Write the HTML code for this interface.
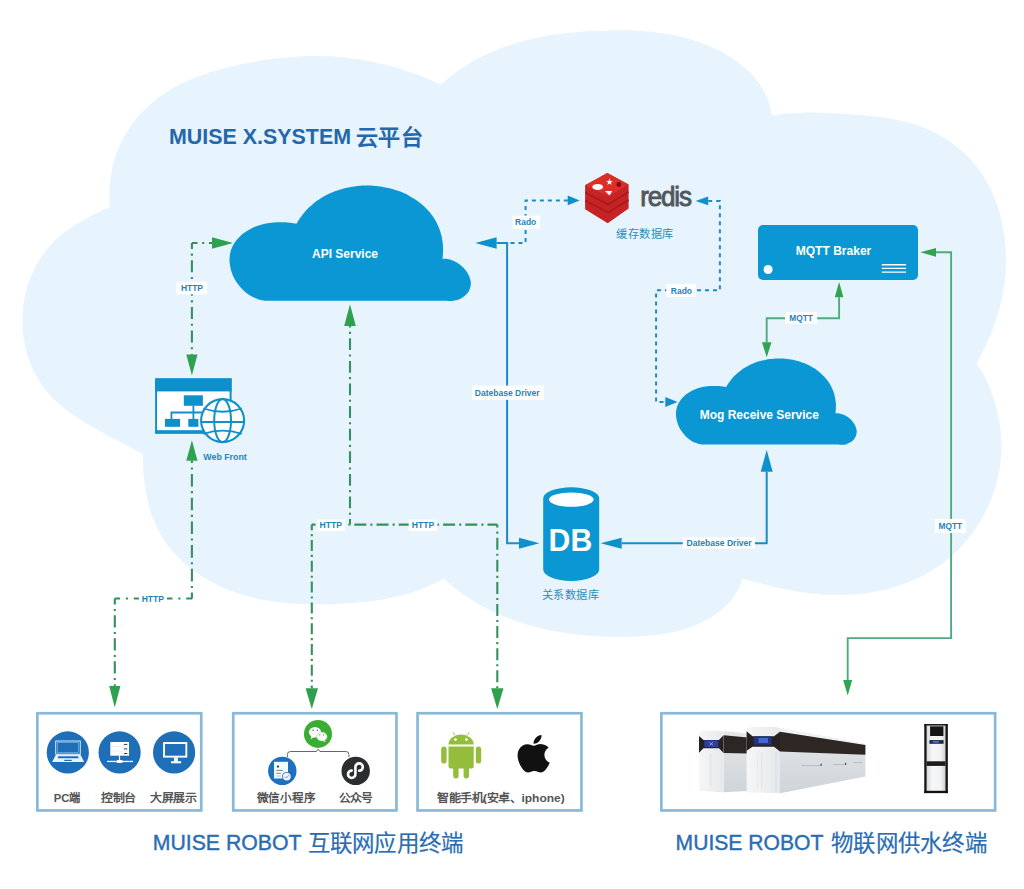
<!DOCTYPE html>
<html lang="zh-CN"><head><meta charset="utf-8"><title>MUISE</title>
<style>
html,body{margin:0;padding:0;background:#fff;}
body{width:1024px;height:889px;overflow:hidden;}
svg{display:block;font-family:'Liberation Sans',sans-serif;}
</style></head><body>
<svg width="1024" height="889" viewBox="0 0 1024 889" font-family="'Liberation Sans', sans-serif">
<path d="M110.0,207.0 C109.9,205.6 109.5,201.6 109.4,198.8 C109.3,196.1 109.3,193.4 109.4,190.7 C109.5,188.0 109.7,185.3 110.0,182.6 C110.2,179.9 110.6,177.2 111.0,174.5 C111.5,171.9 112.0,169.2 112.6,166.6 C113.3,164.0 114.0,161.3 114.8,158.8 C115.5,156.2 116.4,153.7 117.4,151.2 C118.3,148.7 119.4,146.2 120.5,143.8 C121.6,141.4 122.9,139.0 124.1,136.7 C125.4,134.3 126.8,132.0 128.3,129.8 C129.7,127.6 131.2,125.4 132.8,123.3 C134.4,121.2 136.1,119.1 137.8,117.1 C139.5,115.0 141.3,113.1 143.2,111.2 C145.0,109.2 146.9,107.4 148.9,105.6 C150.9,103.8 152.9,102.1 155.0,100.4 C157.0,98.7 159.2,97.1 161.3,95.6 C163.5,94.0 165.7,92.5 168.0,91.1 C170.2,89.7 172.5,88.3 174.9,87.1 C177.2,85.8 179.6,84.5 182.0,83.4 C184.4,82.2 186.9,81.1 189.3,80.0 C191.8,78.9 194.3,77.9 196.8,77.0 C199.3,76.0 201.9,75.1 204.5,74.2 C207.0,73.3 209.6,72.5 212.2,71.7 C214.8,70.9 217.4,70.2 220.1,69.5 C222.7,68.8 225.3,68.1 228.0,67.4 C230.6,66.8 233.3,66.1 236.0,65.5 C238.6,64.9 241.3,64.4 244.0,63.8 C246.6,63.3 249.3,62.7 252.0,62.3 C254.6,61.8 257.3,61.3 260.0,60.8 C262.7,60.4 265.3,60.0 268.0,59.6 C270.7,59.2 273.4,58.9 276.0,58.5 C278.7,58.2 281.4,57.9 284.1,57.7 C286.8,57.4 289.4,57.2 292.1,57.0 C294.8,56.8 297.5,56.6 300.2,56.4 C302.8,56.3 305.5,56.2 308.2,56.1 C310.9,56.1 313.5,56.0 316.2,56.1 C318.9,56.1 321.6,56.1 324.2,56.2 C326.9,56.2 329.6,56.4 332.2,56.5 C334.9,56.7 337.5,56.9 340.2,57.1 C342.9,57.3 345.5,57.6 348.2,57.9 C350.8,58.2 353.5,58.5 356.1,58.9 C358.8,59.3 361.4,59.7 364.0,60.2 C366.7,60.7 369.3,61.2 371.9,61.7 C374.5,62.2 377.2,62.8 379.8,63.4 C382.4,64.0 385.0,64.7 387.6,65.3 C390.2,66.0 392.8,66.7 395.4,67.5 C397.9,68.2 400.5,69.0 403.1,69.8 C405.6,70.6 408.2,71.5 410.7,72.4 C413.3,73.3 415.8,74.2 418.4,75.1 C420.9,76.1 423.4,77.0 425.9,78.1 C428.4,79.1 430.9,80.1 433.4,81.2 C435.9,82.3 439.6,83.9 440.8,84.5 C441.9,83.6 445.0,80.8 447.1,79.1 C449.3,77.3 451.4,75.6 453.6,74.0 C455.8,72.3 458.0,70.8 460.3,69.2 C462.5,67.7 464.8,66.2 467.1,64.8 C469.3,63.4 471.7,62.1 474.0,60.8 C476.3,59.5 478.7,58.2 481.0,57.0 C483.4,55.8 485.8,54.7 488.2,53.6 C490.6,52.5 493.1,51.4 495.5,50.4 C497.9,49.4 500.4,48.5 502.9,47.6 C505.4,46.6 507.9,45.8 510.4,45.0 C512.9,44.1 515.5,43.4 518.0,42.6 C520.6,41.9 523.1,41.2 525.7,40.5 C528.3,39.9 530.9,39.2 533.5,38.6 C536.1,38.1 538.7,37.5 541.4,37.0 C544.0,36.5 546.6,36.0 549.3,35.6 C552.0,35.1 554.6,34.7 557.3,34.3 C560.0,34.0 562.7,33.6 565.4,33.3 C568.1,33.0 570.8,32.7 573.5,32.4 C576.2,32.1 578.9,31.9 581.7,31.7 C584.4,31.5 587.1,31.3 589.9,31.1 C592.6,31.0 595.4,30.8 598.1,30.7 C600.9,30.6 603.7,30.5 606.4,30.4 C609.2,30.4 612.0,30.3 614.7,30.3 C617.5,30.3 620.3,30.3 623.0,30.3 C625.8,30.4 628.6,30.4 631.3,30.5 C634.1,30.6 636.8,30.8 639.6,30.9 C642.3,31.1 645.1,31.3 647.8,31.6 C650.5,31.8 653.3,32.1 656.0,32.4 C658.7,32.8 661.4,33.1 664.1,33.5 C666.7,34.0 669.4,34.4 672.1,34.9 C674.7,35.4 677.4,36.0 680.0,36.6 C682.6,37.2 685.2,37.8 687.8,38.5 C690.3,39.3 692.9,40.0 695.4,40.8 C698.0,41.7 700.5,42.5 703.0,43.5 C705.4,44.4 707.9,45.4 710.3,46.4 C712.7,47.5 715.1,48.6 717.5,49.8 C719.9,51.0 722.2,52.2 724.5,53.5 C726.8,54.8 729.1,56.2 731.3,57.7 C733.5,59.1 735.7,60.6 737.9,62.2 C740.0,63.8 742.1,65.5 744.1,67.2 C746.1,68.9 748.1,70.8 750.0,72.6 C751.8,74.5 753.6,76.5 755.3,78.6 C757.0,80.6 758.6,82.7 760.1,84.9 C761.6,87.1 763.0,89.4 764.2,91.8 C765.5,94.2 766.7,96.6 767.7,99.2 C768.7,101.7 769.6,104.4 770.3,107.1 C771.0,109.8 771.7,114.1 772.0,115.5 C773.3,115.3 777.4,114.7 780.1,114.4 C782.7,114.1 785.4,113.8 788.1,113.6 C790.8,113.3 793.5,113.2 796.1,113.0 C798.8,112.9 801.5,112.8 804.2,112.7 C806.8,112.6 809.5,112.6 812.2,112.6 C814.9,112.6 817.5,112.6 820.2,112.7 C822.9,112.7 825.6,112.8 828.2,112.9 C830.9,113.0 833.6,113.2 836.3,113.3 C839.0,113.5 841.6,113.6 844.3,113.8 C847.0,114.0 849.7,114.2 852.4,114.4 C855.1,114.6 857.8,114.9 860.5,115.1 C863.2,115.3 865.9,115.6 868.6,115.8 C871.3,116.1 874.0,116.4 876.7,116.7 C879.4,117.0 882.1,117.4 884.8,117.8 C887.5,118.2 890.1,118.6 892.8,119.1 C895.5,119.6 898.1,120.1 900.7,120.7 C903.4,121.3 906.0,121.9 908.6,122.6 C911.2,123.3 913.8,124.1 916.3,125.0 C918.9,125.8 921.4,126.8 923.9,127.8 C926.4,128.8 928.9,129.9 931.3,131.0 C933.7,132.2 936.1,133.4 938.5,134.7 C940.8,136.0 943.2,137.4 945.4,138.8 C947.7,140.2 949.9,141.7 952.1,143.3 C954.3,144.9 956.4,146.5 958.4,148.2 C960.5,149.9 962.5,151.6 964.5,153.5 C966.4,155.3 968.3,157.2 970.1,159.1 C971.9,161.1 973.7,163.1 975.3,165.1 C977.0,167.2 978.6,169.3 980.1,171.5 C981.7,173.7 983.1,175.9 984.5,178.2 C985.9,180.4 987.2,182.7 988.5,185.1 C989.7,187.5 990.9,189.9 992.0,192.3 C993.1,194.8 994.1,197.2 995.1,199.8 C996.1,202.3 997.0,204.8 997.8,207.4 C998.6,210.0 999.4,212.6 1000.1,215.2 C1000.8,217.8 1001.4,220.5 1002.0,223.1 C1002.6,225.8 1003.1,228.5 1003.5,231.2 C1004.0,233.9 1004.3,236.6 1004.7,239.3 C1005.0,242.1 1005.2,244.8 1005.4,247.5 C1005.6,250.2 1005.7,253.0 1005.8,255.7 C1005.9,258.5 1005.9,261.2 1005.8,263.9 C1005.7,266.6 1005.6,269.4 1005.4,272.1 C1005.3,274.8 1005.0,277.5 1004.7,280.2 C1004.4,282.9 1004.1,285.5 1003.7,288.2 C1003.3,290.8 1002.8,293.4 1002.3,296.1 C1001.8,298.7 1001.2,301.3 1000.6,303.8 C999.9,306.4 999.3,309.0 998.5,311.5 C997.8,314.1 997.0,316.6 996.2,319.1 C995.4,321.7 994.5,324.2 993.6,326.7 C992.6,329.2 991.7,331.6 990.7,334.1 C989.7,336.6 988.6,339.1 987.5,341.5 C986.4,344.0 985.3,346.4 984.1,348.8 C982.9,351.3 981.7,353.7 980.5,356.1 C979.2,358.6 977.2,362.2 976.6,363.4 C977.3,364.6 979.5,368.0 980.9,370.4 C982.3,372.7 983.6,375.1 984.9,377.6 C986.1,380.0 987.3,382.5 988.4,385.0 C989.5,387.5 990.5,390.0 991.5,392.5 C992.5,395.1 993.4,397.7 994.2,400.3 C995.0,402.8 995.8,405.5 996.5,408.1 C997.2,410.7 997.8,413.4 998.3,416.0 C998.9,418.7 999.3,421.4 999.7,424.1 C1000.1,426.8 1000.5,429.5 1000.7,432.2 C1001.0,434.9 1001.1,437.6 1001.2,440.3 C1001.4,443.0 1001.4,445.7 1001.3,448.4 C1001.3,451.1 1001.2,453.9 1001.0,456.6 C1000.8,459.3 1000.5,462.0 1000.1,464.7 C999.8,467.3 999.4,470.0 998.8,472.7 C998.3,475.4 997.8,478.0 997.1,480.7 C996.4,483.3 995.7,485.9 994.9,488.5 C994.1,491.1 993.2,493.7 992.2,496.3 C991.3,498.8 990.3,501.4 989.2,503.9 C988.1,506.4 986.9,508.8 985.7,511.3 C984.5,513.7 983.2,516.1 981.8,518.5 C980.5,520.8 979.1,523.2 977.6,525.5 C976.1,527.7 974.6,530.0 973.0,532.2 C971.4,534.4 969.8,536.6 968.1,538.7 C966.3,540.8 964.6,542.8 962.8,544.8 C961.0,546.8 959.1,548.8 957.2,550.7 C955.3,552.6 953.3,554.4 951.3,556.2 C949.3,558.0 947.2,559.7 945.1,561.3 C943.0,563.0 940.8,564.6 938.6,566.1 C936.5,567.6 934.2,569.0 931.9,570.4 C929.7,571.8 927.3,573.2 925.0,574.4 C922.6,575.7 920.3,576.9 917.8,578.0 C915.4,579.2 913.0,580.3 910.5,581.3 C908.0,582.3 905.5,583.3 903.0,584.2 C900.4,585.1 897.9,585.9 895.3,586.7 C892.7,587.5 890.1,588.2 887.5,588.9 C884.8,589.6 882.2,590.2 879.5,590.7 C876.9,591.3 874.2,591.8 871.5,592.2 C868.8,592.7 866.1,593.1 863.4,593.4 C860.7,593.7 857.9,594.0 855.2,594.2 C852.5,594.5 849.7,594.6 847.0,594.7 C844.2,594.9 841.5,594.9 838.7,594.9 C836.0,594.9 833.2,594.9 830.5,594.8 C827.7,594.7 825.0,594.6 822.2,594.4 C819.5,594.2 816.8,593.9 814.0,593.6 C811.3,593.4 808.6,593.0 805.9,592.7 C803.1,592.3 800.4,591.9 797.7,591.4 C795.0,591.0 792.3,590.5 789.6,590.0 C786.9,589.5 784.3,589.0 781.6,588.4 C778.9,587.9 776.3,587.3 773.6,586.7 C771.0,586.1 768.3,585.4 765.7,584.8 C763.1,584.2 760.5,583.5 757.9,582.8 C755.3,582.2 752.7,581.5 750.2,580.8 C747.6,580.1 743.8,579.0 742.5,578.7 C742.0,580.0 740.7,584.1 739.6,586.6 C738.4,589.1 737.1,591.5 735.6,593.8 C734.2,596.1 732.6,598.3 730.8,600.4 C729.1,602.4 727.3,604.4 725.3,606.3 C723.4,608.1 721.3,609.9 719.2,611.6 C717.0,613.2 714.8,614.8 712.5,616.2 C710.3,617.7 707.9,619.1 705.5,620.3 C703.2,621.6 700.7,622.8 698.3,623.9 C695.8,625.0 693.3,626.0 690.8,626.9 C688.3,627.8 685.8,628.7 683.2,629.4 C680.6,630.2 678.0,630.9 675.4,631.5 C672.7,632.1 670.1,632.7 667.4,633.2 C664.7,633.7 662.1,634.1 659.4,634.5 C656.6,634.8 653.9,635.2 651.2,635.4 C648.5,635.7 645.7,635.9 643.0,636.1 C640.2,636.3 637.4,636.4 634.7,636.5 C631.9,636.6 629.1,636.7 626.4,636.7 C623.6,636.8 620.8,636.8 618.0,636.8 C615.3,636.8 612.5,636.7 609.7,636.7 C606.9,636.6 604.2,636.5 601.4,636.4 C598.6,636.3 595.9,636.1 593.1,635.9 C590.4,635.7 587.6,635.5 584.9,635.3 C582.1,635.0 579.4,634.7 576.6,634.4 C573.9,634.1 571.2,633.8 568.5,633.4 C565.8,633.0 563.0,632.6 560.3,632.1 C557.6,631.7 555.0,631.2 552.3,630.7 C549.6,630.2 546.9,629.6 544.3,629.0 C541.6,628.4 539.0,627.8 536.3,627.1 C533.7,626.4 531.1,625.7 528.5,625.0 C525.9,624.2 523.3,623.4 520.7,622.6 C518.2,621.8 515.6,620.9 513.1,620.0 C510.5,619.0 508.0,618.1 505.5,617.1 C503.0,616.1 500.5,615.0 498.1,614.0 C495.6,612.9 493.2,611.7 490.8,610.5 C488.3,609.4 485.9,608.1 483.6,606.9 C481.2,605.6 478.8,604.3 476.5,602.9 C474.2,601.5 471.9,600.1 469.6,598.6 C467.3,597.2 465.1,595.7 462.8,594.1 C460.6,592.5 458.4,590.9 456.2,589.2 C454.0,587.6 451.9,585.9 449.8,584.1 C447.7,582.3 444.5,579.5 443.5,578.6 C442.3,579.3 438.7,581.3 436.3,582.6 C433.9,583.8 431.5,585.0 429.1,586.1 C426.6,587.2 424.2,588.2 421.7,589.2 C419.2,590.1 416.8,591.0 414.3,591.8 C411.8,592.7 409.3,593.4 406.8,594.1 C404.2,594.9 401.7,595.5 399.2,596.1 C396.6,596.7 394.1,597.3 391.5,597.8 C388.9,598.3 386.4,598.8 383.8,599.2 C381.2,599.6 378.6,600.0 376.0,600.4 C373.3,600.7 370.7,601.1 368.1,601.4 C365.4,601.7 362.8,601.9 360.1,602.2 C357.5,602.4 354.8,602.7 352.1,602.9 C349.4,603.1 346.7,603.3 344.0,603.5 C341.3,603.6 338.6,603.8 335.9,603.9 C333.2,604.0 330.5,604.2 327.8,604.2 C325.0,604.3 322.3,604.3 319.6,604.4 C316.9,604.4 314.1,604.4 311.4,604.3 C308.7,604.3 306.0,604.2 303.2,604.1 C300.5,604.0 297.8,603.9 295.1,603.7 C292.4,603.5 289.7,603.3 287.0,603.0 C284.3,602.8 281.6,602.5 278.9,602.2 C276.2,601.8 273.5,601.5 270.9,601.1 C268.2,600.6 265.6,600.2 262.9,599.7 C260.3,599.2 257.7,598.6 255.1,598.0 C252.5,597.4 249.9,596.8 247.3,596.1 C244.7,595.4 242.2,594.6 239.7,593.8 C237.1,593.0 234.6,592.2 232.2,591.3 C229.7,590.3 227.2,589.4 224.8,588.4 C222.3,587.3 219.9,586.3 217.5,585.1 C215.2,584.0 212.8,582.8 210.5,581.5 C208.2,580.2 205.9,578.9 203.6,577.5 C201.4,576.1 199.1,574.7 197.0,573.2 C194.8,571.7 192.6,570.1 190.5,568.5 C188.5,566.8 186.4,565.1 184.4,563.4 C182.5,561.6 180.5,559.8 178.7,557.9 C176.8,556.0 175.0,554.1 173.3,552.1 C171.5,550.1 169.8,548.1 168.3,546.0 C166.7,543.9 165.1,541.7 163.7,539.5 C162.3,537.2 160.9,534.9 159.6,532.6 C158.4,530.3 157.2,527.9 156.1,525.4 C154.9,523.0 153.9,520.5 153.0,518.0 C152.0,515.5 151.1,512.9 150.3,510.3 C149.5,507.8 148.8,505.1 148.1,502.5 C147.5,499.9 146.9,497.2 146.4,494.5 C145.8,491.8 145.4,489.2 145.0,486.5 C144.6,483.8 144.3,481.1 144.0,478.4 C143.7,475.7 143.5,473.0 143.3,470.3 C143.2,467.6 143.0,465.0 143.0,462.3 C142.9,459.7 142.9,455.8 142.9,454.5 C141.8,453.9 138.5,451.9 136.3,450.6 C134.0,449.4 131.7,448.1 129.4,446.8 C127.1,445.6 124.7,444.3 122.3,443.1 C120.0,441.8 117.6,440.6 115.2,439.3 C112.8,438.0 110.4,436.8 107.9,435.5 C105.5,434.2 103.1,432.9 100.7,431.6 C98.3,430.3 95.9,428.9 93.5,427.6 C91.1,426.2 88.7,424.8 86.4,423.4 C84.0,422.0 81.7,420.6 79.4,419.1 C77.1,417.6 74.8,416.1 72.6,414.6 C70.4,413.0 68.2,411.4 66.1,409.8 C64.0,408.1 61.9,406.5 59.9,404.7 C57.9,403.0 55.9,401.2 54.0,399.3 C52.2,397.5 50.3,395.6 48.6,393.6 C46.9,391.6 45.2,389.6 43.6,387.5 C42.0,385.4 40.6,383.2 39.2,381.0 C37.8,378.8 36.4,376.5 35.2,374.1 C34.0,371.8 32.8,369.4 31.8,366.9 C30.7,364.5 29.8,362.0 28.9,359.5 C28.0,356.9 27.2,354.4 26.5,351.8 C25.8,349.2 25.2,346.6 24.7,343.9 C24.1,341.3 23.7,338.6 23.4,336.0 C23.0,333.3 22.8,330.6 22.6,327.9 C22.4,325.2 22.4,322.5 22.4,319.8 C22.4,317.1 22.5,314.4 22.7,311.7 C22.9,309.0 23.2,306.3 23.6,303.7 C24.0,301.0 24.4,298.4 25.0,295.7 C25.6,293.1 26.2,290.5 27.0,288.0 C27.7,285.4 28.6,282.8 29.5,280.3 C30.4,277.8 31.4,275.4 32.5,272.9 C33.6,270.5 34.8,268.1 36.0,265.8 C37.3,263.4 38.6,261.2 40.1,258.9 C41.5,256.7 43.0,254.5 44.6,252.4 C46.2,250.3 47.9,248.2 49.6,246.2 C51.4,244.2 53.2,242.3 55.1,240.4 C57.0,238.6 59.0,236.8 61.1,235.1 C63.1,233.4 65.3,231.7 67.4,230.2 C69.6,228.6 71.9,227.1 74.1,225.6 C76.4,224.1 78.7,222.7 81.1,221.4 C83.4,220.0 85.8,218.7 88.2,217.4 C90.6,216.2 93.0,214.9 95.5,213.7 C97.9,212.6 100.3,211.4 102.7,210.3 C105.2,209.2 108.8,207.5 110.0,207.0 Z" fill="#e7f4fd"/>
<path d="M296.7,223.6 C297.1,222.8 298.4,220.5 299.4,219.1 C300.3,217.6 301.3,216.2 302.4,214.9 C303.4,213.5 304.5,212.2 305.6,210.9 C306.8,209.7 307.9,208.4 309.2,207.3 C310.4,206.1 311.7,205.0 313.0,203.9 C314.3,202.8 315.6,201.8 317.0,200.8 C318.3,199.9 319.7,198.9 321.2,198.0 C322.6,197.1 324.1,196.3 325.6,195.5 C327.1,194.7 328.6,194.0 330.2,193.3 C331.7,192.6 333.3,191.9 334.9,191.3 C336.5,190.7 338.1,190.2 339.7,189.7 C341.4,189.2 343.0,188.7 344.7,188.3 C346.3,187.9 348.0,187.5 349.7,187.2 C351.4,186.9 353.1,186.6 354.8,186.4 C356.5,186.2 358.2,186.0 360.0,185.8 C361.7,185.7 363.4,185.6 365.1,185.6 C366.9,185.6 368.6,185.6 370.3,185.6 C372.0,185.7 373.7,185.8 375.5,185.9 C377.2,186.1 378.9,186.3 380.6,186.5 C382.3,186.8 384.0,187.0 385.6,187.4 C387.3,187.7 389.0,188.1 390.6,188.5 C392.3,189.0 393.9,189.4 395.5,189.9 C397.1,190.5 398.7,191.0 400.3,191.6 C401.9,192.3 403.4,192.9 404.9,193.6 C406.4,194.3 407.9,195.1 409.4,195.9 C410.8,196.7 412.3,197.5 413.7,198.4 C415.1,199.3 416.4,200.2 417.8,201.2 C419.1,202.1 420.4,203.1 421.6,204.2 C422.9,205.2 424.1,206.3 425.2,207.5 C426.4,208.6 427.5,209.8 428.6,211.0 C429.6,212.2 430.7,213.5 431.6,214.8 C432.6,216.1 433.5,217.4 434.4,218.8 C435.2,220.2 436.0,221.6 436.8,223.0 C437.5,224.5 438.2,226.0 438.8,227.5 C439.5,229.0 440.0,230.6 440.5,232.2 C441.0,233.8 441.4,235.4 441.8,237.1 C442.1,238.8 442.4,240.5 442.6,242.2 C442.9,244.0 443.0,245.7 443.1,247.5 C443.1,249.3 443.1,251.2 443.0,253.1 C442.9,254.9 442.6,257.8 442.5,258.8 C443.3,258.8 445.8,258.7 447.5,259.0 C449.2,259.3 450.9,259.7 452.5,260.4 C454.1,261.0 455.7,261.8 457.2,262.7 C458.7,263.6 460.1,264.7 461.5,265.9 C462.8,267.0 464.1,268.3 465.2,269.7 C466.3,271.0 467.3,272.4 468.1,273.9 C468.9,275.3 469.6,276.9 470.0,278.4 C470.5,279.9 470.8,281.4 470.9,282.9 C470.9,284.4 470.7,285.9 470.3,287.3 C470.0,288.8 469.3,290.2 468.6,291.5 C467.8,292.8 466.8,294.0 465.7,295.1 C464.5,296.2 463.2,297.2 461.8,298.0 C460.4,298.8 458.8,299.6 457.1,300.1 C455.5,300.6 453.7,300.9 451.8,301.0 C450.0,301.1 447.0,300.8 446.0,300.7  L265.8,300.7 C264.9,300.6 262.3,300.3 260.6,299.9 C258.9,299.5 257.3,299.0 255.7,298.3 C254.1,297.7 252.5,296.9 251.0,296.1 C249.5,295.2 248.1,294.3 246.7,293.2 C245.4,292.2 244.1,291.0 242.8,289.8 C241.6,288.6 240.5,287.4 239.4,286.0 C238.3,284.7 237.3,283.3 236.4,281.9 C235.4,280.4 234.6,278.9 233.8,277.4 C233.1,275.9 232.4,274.3 231.9,272.7 C231.3,271.1 230.8,269.5 230.5,267.9 C230.1,266.3 229.8,264.7 229.7,263.1 C229.5,261.5 229.5,259.9 229.6,258.3 C229.6,256.7 229.8,255.1 230.1,253.6 C230.4,252.1 230.9,250.6 231.4,249.1 C232.0,247.6 232.6,246.2 233.4,244.8 C234.2,243.5 235.0,242.1 236.0,240.8 C237.0,239.6 238.0,238.3 239.2,237.2 C240.3,236.0 241.5,234.9 242.8,233.8 C244.1,232.8 245.5,231.8 246.9,230.9 C248.3,230.0 249.8,229.1 251.4,228.4 C252.9,227.6 254.5,226.9 256.1,226.3 C257.8,225.7 259.4,225.2 261.1,224.7 C262.8,224.2 264.6,223.8 266.3,223.5 C268.1,223.2 269.8,222.9 271.6,222.7 C273.4,222.5 275.1,222.4 276.9,222.3 C278.6,222.2 280.4,222.2 282.1,222.2 C283.8,222.2 285.5,222.3 287.2,222.4 C288.9,222.5 290.5,222.7 292.1,222.9 C293.7,223.1 295.9,223.5 296.7,223.6  Z" fill="#0a97d3"/>
<g transform="translate(504.04,219.73) scale(0.7490,0.7478)"><path d="M296.7,223.6 C297.1,222.8 298.4,220.5 299.4,219.1 C300.3,217.6 301.3,216.2 302.4,214.9 C303.4,213.5 304.5,212.2 305.6,210.9 C306.8,209.7 307.9,208.4 309.2,207.3 C310.4,206.1 311.7,205.0 313.0,203.9 C314.3,202.8 315.6,201.8 317.0,200.8 C318.3,199.9 319.7,198.9 321.2,198.0 C322.6,197.1 324.1,196.3 325.6,195.5 C327.1,194.7 328.6,194.0 330.2,193.3 C331.7,192.6 333.3,191.9 334.9,191.3 C336.5,190.7 338.1,190.2 339.7,189.7 C341.4,189.2 343.0,188.7 344.7,188.3 C346.3,187.9 348.0,187.5 349.7,187.2 C351.4,186.9 353.1,186.6 354.8,186.4 C356.5,186.2 358.2,186.0 360.0,185.8 C361.7,185.7 363.4,185.6 365.1,185.6 C366.9,185.6 368.6,185.6 370.3,185.6 C372.0,185.7 373.7,185.8 375.5,185.9 C377.2,186.1 378.9,186.3 380.6,186.5 C382.3,186.8 384.0,187.0 385.6,187.4 C387.3,187.7 389.0,188.1 390.6,188.5 C392.3,189.0 393.9,189.4 395.5,189.9 C397.1,190.5 398.7,191.0 400.3,191.6 C401.9,192.3 403.4,192.9 404.9,193.6 C406.4,194.3 407.9,195.1 409.4,195.9 C410.8,196.7 412.3,197.5 413.7,198.4 C415.1,199.3 416.4,200.2 417.8,201.2 C419.1,202.1 420.4,203.1 421.6,204.2 C422.9,205.2 424.1,206.3 425.2,207.5 C426.4,208.6 427.5,209.8 428.6,211.0 C429.6,212.2 430.7,213.5 431.6,214.8 C432.6,216.1 433.5,217.4 434.4,218.8 C435.2,220.2 436.0,221.6 436.8,223.0 C437.5,224.5 438.2,226.0 438.8,227.5 C439.5,229.0 440.0,230.6 440.5,232.2 C441.0,233.8 441.4,235.4 441.8,237.1 C442.1,238.8 442.4,240.5 442.6,242.2 C442.9,244.0 443.0,245.7 443.1,247.5 C443.1,249.3 443.1,251.2 443.0,253.1 C442.9,254.9 442.6,257.8 442.5,258.8 C443.3,258.8 445.8,258.7 447.5,259.0 C449.2,259.3 450.9,259.7 452.5,260.4 C454.1,261.0 455.7,261.8 457.2,262.7 C458.7,263.6 460.1,264.7 461.5,265.9 C462.8,267.0 464.1,268.3 465.2,269.7 C466.3,271.0 467.3,272.4 468.1,273.9 C468.9,275.3 469.6,276.9 470.0,278.4 C470.5,279.9 470.8,281.4 470.9,282.9 C470.9,284.4 470.7,285.9 470.3,287.3 C470.0,288.8 469.3,290.2 468.6,291.5 C467.8,292.8 466.8,294.0 465.7,295.1 C464.5,296.2 463.2,297.2 461.8,298.0 C460.4,298.8 458.8,299.6 457.1,300.1 C455.5,300.6 453.7,300.9 451.8,301.0 C450.0,301.1 447.0,300.8 446.0,300.7  L265.8,300.7 C264.9,300.6 262.3,300.3 260.6,299.9 C258.9,299.5 257.3,299.0 255.7,298.3 C254.1,297.7 252.5,296.9 251.0,296.1 C249.5,295.2 248.1,294.3 246.7,293.2 C245.4,292.2 244.1,291.0 242.8,289.8 C241.6,288.6 240.5,287.4 239.4,286.0 C238.3,284.7 237.3,283.3 236.4,281.9 C235.4,280.4 234.6,278.9 233.8,277.4 C233.1,275.9 232.4,274.3 231.9,272.7 C231.3,271.1 230.8,269.5 230.5,267.9 C230.1,266.3 229.8,264.7 229.7,263.1 C229.5,261.5 229.5,259.9 229.6,258.3 C229.6,256.7 229.8,255.1 230.1,253.6 C230.4,252.1 230.9,250.6 231.4,249.1 C232.0,247.6 232.6,246.2 233.4,244.8 C234.2,243.5 235.0,242.1 236.0,240.8 C237.0,239.6 238.0,238.3 239.2,237.2 C240.3,236.0 241.5,234.9 242.8,233.8 C244.1,232.8 245.5,231.8 246.9,230.9 C248.3,230.0 249.8,229.1 251.4,228.4 C252.9,227.6 254.5,226.9 256.1,226.3 C257.8,225.7 259.4,225.2 261.1,224.7 C262.8,224.2 264.6,223.8 266.3,223.5 C268.1,223.2 269.8,222.9 271.6,222.7 C273.4,222.5 275.1,222.4 276.9,222.3 C278.6,222.2 280.4,222.2 282.1,222.2 C283.8,222.2 285.5,222.3 287.2,222.4 C288.9,222.5 290.5,222.7 292.1,222.9 C293.7,223.1 295.9,223.5 296.7,223.6  Z" fill="#0a97d3"/></g>
<text x="169" y="144.2" textLength="182" lengthAdjust="spacingAndGlyphs" font-size="21.5" font-weight="bold" fill="#2467ad">MUISE X.SYSTEM</text>
<text x="356.2" y="144.8" textLength="66.8" lengthAdjust="spacingAndGlyphs" font-size="21.8" font-weight="bold" fill="#2467ad">云平台</text>
<text x="312" y="258.3" textLength="66" lengthAdjust="spacingAndGlyphs" font-size="13.2" font-weight="bold" fill="#fff">API Service</text>
<text x="699.8" y="418.8" textLength="119.1" lengthAdjust="spacingAndGlyphs" font-size="13.2" font-weight="bold" fill="#fff">Mog Receive Service</text>
<path d="M212,243 L191.9,243" fill="none" stroke="#36905e" stroke-width="2.1" stroke-dasharray="12 4.65 2.1 4.65" stroke-dashoffset="8.90"/>
<path d="M191.9,243 L191.9,355" fill="none" stroke="#36905e" stroke-width="2.1" stroke-dasharray="12 4.65 2.1 4.65" stroke-dashoffset="6.10"/>
<polygon points="233.0,243.0 212.0,237.3 212.0,248.7" fill="#2ea04f"/>
<polygon points="191.9,375.6 186.3,354.6 197.5,354.6" fill="#2ea04f"/>
<rect x="176.3" y="281.7" width="30.6" height="12.6" fill="#fff"/><text x="181" y="291.2" textLength="22.0" lengthAdjust="spacingAndGlyphs" font-size="9.3" font-weight="bold" fill="#1d84bb">HTTP</text>
<path d="M191.9,460.5 L191.9,598.5" fill="none" stroke="#36905e" stroke-width="2.1" stroke-dasharray="12.6 4.50 2.1 4.50" stroke-dashoffset="10.20"/>
<path d="M192.2,598.5 L114.8,598.5" fill="none" stroke="#36905e" stroke-width="2.1" stroke-dasharray="12.5 5.80 2.1 5.80" stroke-dashoffset="6.50"/>
<path d="M114.8,598.5 L114.8,686" fill="none" stroke="#36905e" stroke-width="2.1" stroke-dasharray="12.3 4.30 2.1 4.30" stroke-dashoffset="6.20"/>
<polygon points="191.9,440.3 186.3,460.8 197.5,460.8" fill="#2ea04f"/>
<polygon points="114.8,707.5 109.2,686.0 120.4,686.0" fill="#2ea04f"/>
<rect x="139" y="592.3" width="28.0" height="12.3" fill="#fff"/><text x="141.7" y="601.7" textLength="22.2" lengthAdjust="spacingAndGlyphs" font-size="9.3" font-weight="bold" fill="#1d84bb">HTTP</text>
<path d="M350,325.9 L350,524.6" fill="none" stroke="#36905e" stroke-width="2.1" stroke-dasharray="11.8 4.35 2.1 4.35" stroke-dashoffset="10.20"/>
<path d="M349.8,524.6 L497.3,524.6" fill="none" stroke="#36905e" stroke-width="2.1" stroke-dasharray="12 4.05 2.1 4.05" stroke-dashoffset="17.70"/>
<path d="M497.3,524.6 L497.3,688.2" fill="none" stroke="#36905e" stroke-width="2.1" stroke-dasharray="12 4.00 2.1 4.00" stroke-dashoffset="9.00"/>
<path d="M349.8,524.6 L311.8,524.6" fill="none" stroke="#36905e" stroke-width="2.1" stroke-dasharray="11.5 4.30 2.1 4.30" stroke-dashoffset="10.10"/>
<path d="M311.8,524.6 L311.8,688.2" fill="none" stroke="#36905e" stroke-width="2.1" stroke-dasharray="11 3.85 2.1 3.85" stroke-dashoffset="5.40"/>
<polygon points="350.0,304.2 344.2,325.9 355.8,325.9" fill="#2ea04f"/>
<polygon points="311.8,708.9 305.6,688.2 318.0,688.2" fill="#2ea04f"/>
<polygon points="497.3,708.9 491.1,688.2 503.5,688.2" fill="#2ea04f"/>
<rect x="317.4" y="519.5" width="27.7" height="11.3" fill="#fff"/><text x="319.5" y="528.2" textLength="22.5" lengthAdjust="spacingAndGlyphs" font-size="9.3" font-weight="bold" fill="#1d84bb">HTTP</text>
<rect x="408.7" y="519.5" width="28.7" height="11.3" fill="#fff"/><text x="411.8" y="528.2" textLength="22.5" lengthAdjust="spacingAndGlyphs" font-size="9.3" font-weight="bold" fill="#1d84bb">HTTP</text>
<path d="M496.6,243 H507.1 V543.2 H519.5" fill="none" stroke="#1a8cc6" stroke-width="2"/>
<polygon points="475.3,243.0 496.6,237.2 496.6,248.8" fill="#0e90cd"/>
<polygon points="539.5,543.2 519.0,537.7 519.0,548.7" fill="#0e90cd"/>
<rect x="472.2" y="385.6" width="71.8" height="14.2" fill="#fff"/><text x="474.8" y="395.9" textLength="64.8" lengthAdjust="spacingAndGlyphs" font-size="9.3" font-weight="bold" fill="#1d84bb">Datebase Driver</text>
<path d="M621.7,543.3 H766.7 V471.7" fill="none" stroke="#1a8cc6" stroke-width="2"/>
<polygon points="600.6,543.2 621.7,537.7 621.7,548.7" fill="#0e90cd"/>
<polygon points="766.7,450.1 760.7,471.7 772.7,471.7" fill="#0e90cd"/>
<rect x="682.8" y="537.2" width="72.2" height="11.5" fill="#fff"/><text x="686.5" y="546" textLength="65.2" lengthAdjust="spacingAndGlyphs" font-size="9.3" font-weight="bold" fill="#1d84bb">Datebase Driver</text>
<path d="M510.5,243 H525.6 V200.4 H567.8" fill="none" stroke="#1a8cc6" stroke-width="2" stroke-dasharray="4 4"/>
<polygon points="579.7,200.4 567.7,195.6 567.7,205.2" fill="#0e90cd"/>
<rect x="512.5" y="215.6" width="27.6" height="13.2" fill="#fff"/><text x="515.1" y="224.6" textLength="21.1" lengthAdjust="spacingAndGlyphs" font-size="9.3" font-weight="bold" fill="#1d84bb">Rado</text>
<path d="M708.2,200.9 H719.9 V290.3 H656.1 V402 H665.3" fill="none" stroke="#1a8cc6" stroke-width="2" stroke-dasharray="4 4"/>
<polygon points="695.6,200.9 708.2,196.6 708.2,205.2" fill="#0e90cd"/>
<polygon points="677.6,402.0 665.3,397.1 665.3,406.9" fill="#0e90cd"/>
<rect x="666.3" y="284.2" width="29.7" height="12.8" fill="#fff"/><text x="670.8" y="293.6" textLength="21.2" lengthAdjust="spacingAndGlyphs" font-size="9.3" font-weight="bold" fill="#1d84bb">Rado</text>
<path d="M766.7,342.3 V318.2 H839.1 V297.2" fill="none" stroke="#4fab7e" stroke-width="1.9"/>
<polygon points="766.7,357.3 762.0,342.3 771.5,342.3" fill="#31a453"/>
<polygon points="839.1,282.1 834.8,297.2 843.4,297.2" fill="#31a453"/>
<rect x="785" y="312.2" width="32.2" height="11.8" fill="#fff"/><text x="789.3" y="320.8" textLength="23.6" lengthAdjust="spacingAndGlyphs" font-size="9.3" font-weight="bold" fill="#1d84bb">MQTT</text>
<path d="M936,252.3 H951.1 V638.1 H847.7 V679.9" fill="none" stroke="#4fab7e" stroke-width="1.9"/>
<polygon points="920.3,252.3 936.0,247.9 936.0,256.7" fill="#31a453"/>
<polygon points="847.7,695.5 843.2,679.9 852.2,679.9" fill="#31a453"/>
<rect x="935" y="518.9" width="30.7" height="14.1" fill="#fff"/><text x="938.6" y="528.8" textLength="23.6" lengthAdjust="spacingAndGlyphs" font-size="9.3" font-weight="bold" fill="#1d84bb">MQTT</text>
<g>
<polygon points="607.3,173.1 628.6,184.5 628.6,208.5 607.7,223.3 585.1,209.2 585.1,185.2" fill="#c62326"/>
<polygon points="607.3,173.1 628.6,184.5 608.5,196.5 585.1,185.2" fill="#dc2e27"/>
<path d="M585.1,192.5 L608.3,204.5 L628.6,192" fill="none" stroke="#a81b1a" stroke-width="1.6"/>
<path d="M585.1,200.5 L608.3,212.5 L628.6,200" fill="none" stroke="#a81b1a" stroke-width="1.6"/>
<ellipse cx="597.7" cy="186.9" rx="5.4" ry="3" fill="#fff"/>
<polygon points="609.5,178.6 610.4,181 612.8,181 610.9,182.6 611.6,185 609.5,183.6 607.4,185 608.1,182.6 606.2,181 608.6,181" fill="#fff"/>
<polygon points="605,191 612.2,191 609.6,195.6" fill="#fff"/>
<circle cx="618.8" cy="184.5" r="2.4" fill="#7a1010"/>
</g>
<text x="640.2" y="205.6" font-size="27" fill="#52575e" stroke="#52575e" stroke-width="0.9" letter-spacing="-1.2" textLength="50.6" lengthAdjust="spacingAndGlyphs">redis</text>
<text x="616.3" y="237.8" textLength="57.7" lengthAdjust="spacingAndGlyphs" font-size="11.6" fill="#2e8cb9">缓存数据库</text>
<rect x="758" y="225" width="160" height="55" rx="5" fill="#0a97d3"/>
<text x="795.7" y="255.1" textLength="75.6" lengthAdjust="spacingAndGlyphs" font-size="12.4" font-weight="bold" fill="#fff">MQTT Braker</text>
<circle cx="768.1" cy="269.5" r="4.5" fill="#fff"/>
<path d="M881.8,264.7 H906.1 M881.8,268.4 H906.1 M881.8,272.1 H906.1" stroke="#fff" stroke-width="1.4"/>
<g>
<rect x="156.1" y="379.4" width="74.5" height="53.2" fill="#fff" stroke="#0e90cd" stroke-width="2"/>
<rect x="155.1" y="378.4" width="76.5" height="13" fill="#0e90cd"/>
<rect x="155.1" y="430.2" width="76.5" height="3.4" fill="#0e90cd"/>
<rect x="183.8" y="395.3" width="19.1" height="10.5" fill="#0e90cd"/>
<rect x="165" y="418.9" width="15.1" height="7.9" fill="#0e90cd"/>
<rect x="188.3" y="418.9" width="10.1" height="7.9" fill="#0e90cd"/>
<path d="M193.4,405.8 V419 M171.4,419 V412.5 H205" fill="none" stroke="#0e90cd" stroke-width="1.8"/>
<circle cx="222.6" cy="420.6" r="21.5" fill="#fff" stroke="#0e90cd" stroke-width="2.1"/>
<ellipse cx="222.6" cy="420.6" rx="8.4" ry="21.5" fill="none" stroke="#0e90cd" stroke-width="2"/>
<path d="M200.9,422 H244.3" stroke="#0e90cd" stroke-width="1.8"/>
<path d="M203.5,408.5 Q222.6,415 241.7,408.5" fill="none" stroke="#0e90cd" stroke-width="1.8"/>
<path d="M203.5,433.8 Q222.6,427.5 241.7,433.8" fill="none" stroke="#0e90cd" stroke-width="1.8"/>
</g>
<text x="203.3" y="460" textLength="43.5" lengthAdjust="spacingAndGlyphs" font-size="9.3" font-weight="bold" fill="#1d84bb">Web Front</text>
<path fill="#0a97d3" d="M543.2,498.3 A28,11 0 0 1 599.2,498.3 V569.4 A28,11.5 0 0 1 543.2,569.4 Z"/>
<ellipse cx="571.3" cy="499.6" rx="22.3" ry="7.2" fill="#fff"/>
<text x="548.6" y="551.4" textLength="43.6" lengthAdjust="spacingAndGlyphs" font-size="31.5" font-weight="bold" fill="#fff">DB</text>
<text x="541.7" y="599" textLength="57.8" lengthAdjust="spacingAndGlyphs" font-size="11.6" fill="#2e8cb9">关系数据库</text>
<rect x="37.35" y="713.25" width="163.90" height="97.20" fill="#fff" stroke="#88bad8" stroke-width="2.7"/>
<rect x="233.25" y="713.25" width="163.20" height="97.20" fill="#fff" stroke="#88bad8" stroke-width="2.7"/>
<rect x="417.55" y="713.25" width="163.90" height="97.20" fill="#fff" stroke="#88bad8" stroke-width="2.7"/>
<rect x="661.35" y="713.25" width="333.80" height="97.20" fill="#fff" stroke="#88bad8" stroke-width="2.7"/>
<circle cx="67.8" cy="752.4" r="21.1" fill="#1e6eb8"/>
<circle cx="119.6" cy="752.4" r="21.1" fill="#1e6eb8"/>
<circle cx="174.1" cy="752.4" r="21.1" fill="#1e6eb8"/>
<rect x="55.7" y="741" width="24.6" height="13.2" fill="none" stroke="#d6ebfb" stroke-width="1"/>
<rect x="57.4" y="742.6" width="21.2" height="10" fill="none" stroke="#9fcdf0" stroke-width="0.5"/>
<polygon points="52.1,762 84.2,762 80.4,754.6 56,754.6" fill="#e6f3fd"/>
<polygon points="57.6,758.3 78.7,758.3 78,756.2 58.3,756.2" fill="#1e6eb8"/>
<rect x="64.2" y="759.8" width="7.6" height="1.2" fill="#1e6eb8"/>
<rect x="110.3" y="742" width="18.7" height="13.7" fill="#fff"/>
<g stroke="#d3e0ec" stroke-width="0.5"><path d="M111,746.6 H128.3 M111,751.1 H128.3"/></g>
<g fill="#2a3a55"><rect x="123.9" y="743.9" width="3.4" height="1"/><rect x="123.9" y="748.4" width="3.4" height="1"/><rect x="123.9" y="753" width="3.4" height="1"/></g>
<rect x="107.1" y="760.8" width="25.9" height="1.3" fill="#fff"/>
<rect x="118.9" y="755.5" width="1.2" height="5.5" fill="#fff"/>
<rect x="116.8" y="760.1" width="5.7" height="2.9" rx="0.8" fill="#fff"/>
<rect x="164.05" y="743.05" width="22.3" height="13.6" fill="none" stroke="#fff" stroke-width="1.9"/>
<rect x="174" y="757.5" width="3.8" height="4.2" fill="#fff"/>
<rect x="171.1" y="761.2" width="10" height="2.1" fill="#fff"/>
<text x="53.7" y="802" textLength="26.4" lengthAdjust="spacingAndGlyphs" font-size="11.5" font-weight="bold" fill="#555555">PC端</text>
<text x="101.2" y="802" textLength="34.3" lengthAdjust="spacingAndGlyphs" font-size="11.5" font-weight="bold" fill="#555555">控制台</text>
<text x="150.4" y="802" textLength="45.7" lengthAdjust="spacingAndGlyphs" font-size="11.5" font-weight="bold" fill="#555555">大屏展示</text>
<path d="M287.4,757.1 V754.5 Q287.4,751.5 290.4,751.5 H316.5 L318.2,749.2 L319.9,751.5 H345.9 Q348.9,751.5 348.9,754.5 V757.1" fill="none" stroke="#555" stroke-width="0.9"/>
<circle cx="318" cy="733.9" r="14" fill="#3aad33"/>
<ellipse cx="315" cy="732.2" rx="6.1" ry="5.3" fill="#fff"/>
<polygon points="311.5,736 310.6,739.2 314.5,736.8" fill="#fff"/>
<ellipse cx="321.9" cy="736.6" rx="5.3" ry="4.5" fill="#fff" stroke="#7fc97a" stroke-width="0.5"/>
<polygon points="324.6,740.3 325.8,742.2 322.6,740.8" fill="#fff"/>
<g fill="#5b6b45"><circle cx="313" cy="730.2" r="0.75"/><circle cx="317.4" cy="730.2" r="0.75"/><circle cx="319.8" cy="734.8" r="0.65"/><circle cx="323.5" cy="734.8" r="0.65"/></g>
<circle cx="282.3" cy="770.9" r="14.2" fill="#1e6fbd"/>
<rect x="274" y="761.8" width="14" height="16.7" fill="#f4fbff"/>
<circle cx="277.9" cy="766.6" r="1.1" fill="#1b2f50"/>
<g stroke="#5d6a7a" stroke-width="0.8"><path d="M276.3,770.4 H282.8 M276.3,773.3 H280.9"/></g>
<path d="M276.3,776 H280.9" stroke="#8fc3c9" stroke-width="0.8"/>
<circle cx="286.8" cy="776.6" r="4.7" fill="#1e6fbd"/>
<circle cx="286.8" cy="776.6" r="3.9" fill="#eef5fb"/>
<path d="M284.9,776.6 L286.3,778 L288.9,775.2" fill="none" stroke="#6b6fcf" stroke-width="0.8"/>
<circle cx="355.7" cy="770.9" r="14.2" fill="#2b2d31"/>
<path d="M351.7,770.6 A3.7,3.7 0 1 0 355.4,774.3 V767.1 A3.7,3.7 0 1 1 359.1,770.8" fill="none" stroke="#fff" stroke-width="2.6" stroke-linecap="round"/>
<text x="256.6" y="802" textLength="58.9" lengthAdjust="spacingAndGlyphs" font-size="11.8" font-weight="bold" fill="#555555">微信小程序</text>
<text x="338.9" y="802" textLength="33.8" lengthAdjust="spacingAndGlyphs" font-size="11.5" font-weight="bold" fill="#555555">公众号</text>
<g fill="#95bd3c">
<path d="M448.5,744.4 A12.6,9.8 0 0 1 473.7,744.4 Z"/>
<path d="M448.5,746.5 H473.7 V766.4 Q473.7,768.4 471.7,768.4 H450.5 Q448.5,768.4 448.5,766.4 Z"/>
<rect x="441.2" y="746.5" width="5.4" height="17" rx="2.7"/>
<rect x="475.8" y="746.5" width="5.4" height="17" rx="2.7"/>
<rect x="453.2" y="762" width="5.4" height="16.4" rx="2.7"/>
<rect x="463.6" y="762" width="5.4" height="16.4" rx="2.7"/>
</g>
<path d="M454.8,735.3 L453,732.2 M467.4,735.3 L469.2,732.2" stroke="#95bd3c" stroke-width="0.9"/>
<circle cx="455.4" cy="739.6" r="1.4" fill="#fff"/><circle cx="466.4" cy="739.6" r="1.4" fill="#fff"/>
<path transform="translate(513.95,735.1) scale(1.642,1.558)" fill="#111" d="M12.152 6.896c-.948 0-2.415-1.078-3.96-1.04-2.04.027-3.91 1.183-4.961 3.014-2.117 3.675-.546 9.103 1.519 12.09 1.013 1.454 2.208 3.09 3.792 3.039 1.52-.065 2.09-.987 3.935-.987 1.831 0 2.35.987 3.96.948 1.637-.026 2.676-1.48 3.676-2.948 1.156-1.688 1.636-3.325 1.662-3.415-.039-.013-3.182-1.221-3.22-4.857-.026-3.04 2.48-4.494 2.597-4.559-1.429-2.09-3.623-2.324-4.39-2.376-2-.156-3.675 1.09-4.61 1.09zM15.53 3.83c.843-1.012 1.4-2.427 1.245-3.83-1.207.052-2.662.805-3.532 1.818-.78.896-1.454 2.338-1.273 3.714 1.338.104 2.715-.688 3.559-1.701"/>
<text x="437.2" y="802" textLength="127.5" lengthAdjust="spacingAndGlyphs" font-size="11.5" font-weight="bold" fill="#555555">智能手机(安卓、iphone)</text>
<defs>
<linearGradient id="sideg" x1="0" y1="0" x2="0" y2="1"><stop offset="0" stop-color="#e4e8ea"/><stop offset="1" stop-color="#cfd4d8"/></linearGradient>
<linearGradient id="frontg" x1="0" y1="0" x2="1" y2="0"><stop offset="0" stop-color="#f4f6f7"/><stop offset="1" stop-color="#e6e9eb"/></linearGradient>
<linearGradient id="dispg" x1="0" y1="0" x2="1" y2="0"><stop offset="0" stop-color="#c9cdd1"/><stop offset="0.35" stop-color="#f7f7f7"/><stop offset="0.7" stop-color="#f2f2f2"/><stop offset="1" stop-color="#b9bec3"/></linearGradient>
</defs>
<g>
<!-- machine 1 side -->
<polygon points="723.6,731 748,733.5 748,791 723.6,792.2" fill="url(#sideg)"/>
<polygon points="723.6,735.2 748,737.5 748,753.5 723.6,753.1" fill="#2c2624"/>
<!-- machine 1 front -->
<polygon points="699,732.5 703,730.8 719.5,730.8 723.6,732 723.6,792.2 699,791" fill="url(#frontg)"/>
<polygon points="699,736 703.5,740 719,740 723.6,735.2 723.6,753.1 719,748.3 703.5,748.3 699,752.7" fill="#262120"/>
<rect x="704.3" y="740.2" width="14" height="7" fill="#2b3f96"/>
<path d="M709.5,742.2 L713,745.4 M713,742.2 L709.5,745.4" stroke="#9fb6f0" stroke-width="0.8"/>
<path d="M710.8,754 V786" stroke="#d0d4d7" stroke-width="0.6"/>
<!-- machine 2 side -->
<polygon points="780,727.9 865.4,743.9 865.4,776.6 780,793.2" fill="url(#sideg)"/>
<polygon points="780,727.9 865.4,743.9 865.4,745.3 780,731.8" fill="#f1f3f4"/>
<polygon points="780,731.8 865.4,744.9 865.4,754.7 780,751.5" fill="#2f2724"/>
<g stroke="#a3a8ad" stroke-width="0.6"><path d="M801.3,765.6 H820.5"/><path d="M832.9,764.6 H845"/><path d="M853.3,762.6 H862"/></g>
<g fill="#4a4e55"><rect x="820.5" y="763.6" width="1.2" height="2.4"/><rect x="845" y="762.8" width="1.1" height="2.2"/></g>
<!-- machine 2 front -->
<polygon points="746.6,729.5 751.5,727 775,727 780,727.9 780,793.2 746.6,792.5" fill="url(#frontg)"/>
<polygon points="746.6,731.2 752.5,736.3 774,736.3 780,731.8 780,751.5 774,746.8 752.5,746.8 746.6,750.8" fill="#262120"/>
<rect x="753.8" y="736.4" width="17.9" height="8.3" fill="#22347c"/>
<rect x="758.5" y="738" width="9.5" height="5" fill="#4068d2"/>
<path d="M761.6,752 V788" stroke="#d3d7da" stroke-width="0.6"/>
<path d="M757.5,752 V788" stroke="#e0e3e5" stroke-width="0.5"/>
<path d="M776,752 V792" stroke="#d9dde0" stroke-width="1"/>
</g>
<g>
<rect x="924.3" y="724" width="23.5" height="69.1" fill="url(#dispg)"/>
<rect x="924.3" y="724" width="23.5" height="1.6" fill="#1e1e1e"/>
<rect x="924.3" y="724" width="2.3" height="69.1" fill="#161616"/>
<rect x="945.5" y="724" width="2.3" height="69.1" fill="#161616"/>
<rect x="930.1" y="726.3" width="13.3" height="9.7" fill="#151515"/>
<rect x="929.4" y="740.1" width="14.2" height="3.7" fill="#1f2a4a"/>
<rect x="933" y="741.2" width="6" height="1.4" fill="#5a7fd8"/>
<rect x="926.6" y="761.3" width="18.9" height="4.6" fill="#1c1c1c"/>
<rect x="924.3" y="790.8" width="23.5" height="2.3" fill="#111"/>
</g>
<text x="152.8" y="849.6" textLength="148.6" lengthAdjust="spacingAndGlyphs" font-size="21.2" fill="#2a6db3" stroke="#2a6db3" stroke-width="0.4">MUISE ROBOT</text>
<text x="307.6" y="850.6" textLength="155.8" lengthAdjust="spacingAndGlyphs" font-size="22.2" fill="#2a6db3" stroke="#2a6db3" stroke-width="0.2">互联网应用终端</text>
<text x="675.6" y="849.6" textLength="147.7" lengthAdjust="spacingAndGlyphs" font-size="21.2" fill="#2a6db3" stroke="#2a6db3" stroke-width="0.4">MUISE ROBOT</text>
<text x="831" y="850.6" textLength="155.8" lengthAdjust="spacingAndGlyphs" font-size="22.2" fill="#2a6db3" stroke="#2a6db3" stroke-width="0.2">物联网供水终端</text>
</svg>
</body></html>
